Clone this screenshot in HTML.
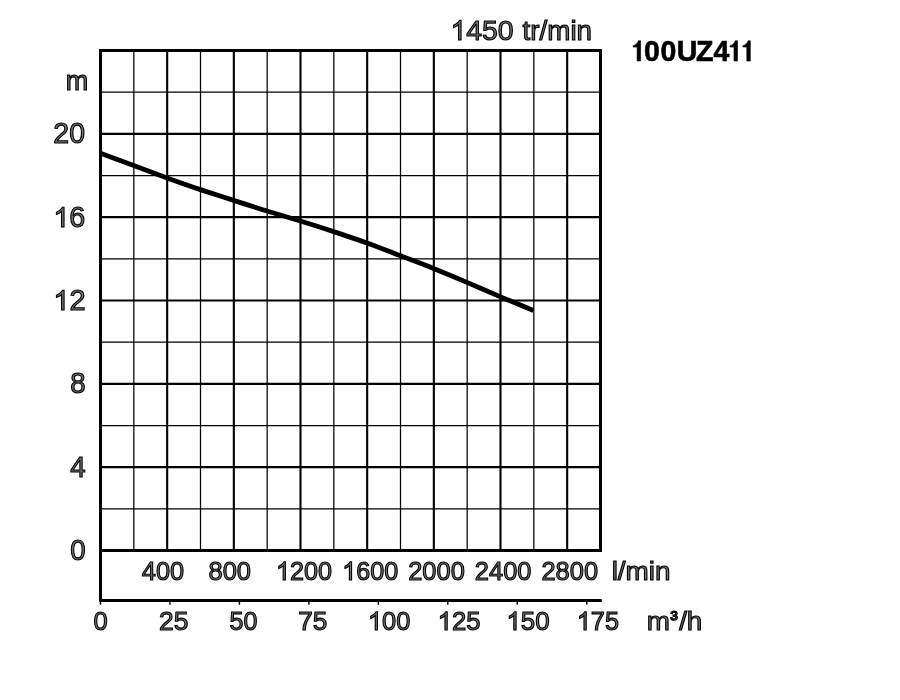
<!DOCTYPE html>
<html><head><meta charset="utf-8"><title>100UZ411</title>
<style>
html,body{margin:0;padding:0;background:#fff;}
body{width:900px;height:700px;overflow:hidden;font-family:"Liberation Sans",sans-serif;}
svg{display:block;will-change:transform;transform:translateZ(0);}
text{font-family:"Liberation Sans",sans-serif;}
.t{fill:#727272;stroke:#000;stroke-width:1.1px;paint-order:fill stroke;vector-effect:non-scaling-stroke;}
.h{fill:none;stroke:none;}
.b{font-weight:bold;fill:#000;stroke:#000;stroke-width:0.6px;vector-effect:non-scaling-stroke;}
</style></head><body>
<svg width="900" height="700" viewBox="0 0 900 700">
<rect width="900" height="700" fill="#fff"/>
<path d="M133.83 50.5V550.5M200.50 50.5V550.5M267.17 50.5V550.5M333.83 50.5V550.5M400.50 50.5V550.5M467.17 50.5V550.5M533.83 50.5V550.5M100.5 92.17H600.5M100.5 175.50H600.5M100.5 258.83H600.5M100.5 342.17H600.5M100.5 425.50H600.5M100.5 508.83H600.5" stroke="#000" stroke-width="1.25" fill="none"/>
<path d="M167.17 50.5V550.5M233.83 50.5V550.5M300.50 50.5V550.5M367.17 50.5V550.5M433.83 50.5V550.5M500.50 50.5V550.5M567.17 50.5V550.5M100.5 133.83H600.5M100.5 217.17H600.5M100.5 300.50H600.5M100.5 383.83H600.5M100.5 467.17H600.5" stroke="#000" stroke-width="2.1" fill="none"/>
<path d="M100.5 600.5V50.5H600.5V552.0" stroke="#000" stroke-width="3" fill="none" stroke-linejoin="miter"/>
<path d="M99.0 550.5H602.0" stroke="#000" stroke-width="3" fill="none"/>
<path d="M99.0 600.5H601.8" stroke="#000" stroke-width="3" fill="none"/>
<path d="M100.50 601V604.7M169.96 601V604.7M239.42 601V604.7M308.88 601V604.7M378.34 601V604.7M447.80 601V604.7M517.26 601V604.7M586.72 601V604.7" stroke="#000" stroke-width="1.4" fill="none"/>
<path d="M100.5 153.3C106.0 155.4 122.6 161.5 133.7 165.6C144.8 169.7 155.9 174.0 167 178C178.1 182.0 189.2 185.9 200.3 189.6C211.4 193.3 222.5 196.8 233.6 200.4C244.7 204.0 255.9 207.6 267 211C278.1 214.4 289.2 217.6 300.3 221C311.4 224.4 322.5 227.9 333.6 231.6C344.7 235.3 355.9 239.0 367 243C378.1 247.0 388.9 251.3 400 255.6C411.1 259.9 422.3 264.0 433.5 268.5C444.7 273.0 455.9 277.7 467 282.4C478.1 287.1 488.9 291.9 500 296.6C511.1 301.3 527.9 308.2 533.5 310.5" stroke="#000" stroke-width="4.8" fill="none" stroke-linejoin="round" stroke-linecap="butt"/>
<g transform="translate(450.46 40) scale(0.9969 1)"><path class="t" transform="translate(0.00 0) scale(0.013916 -0.013320)" d="M763 0H583V1147Q518 1085 412.5 1023T223 930V1104Q374 1175 487 1276T647 1472H763Z"/><text class="t" font-size="28.5" x="0.00 15.85 31.70 47.55" y="0"><tspan class="h">1</tspan>450</text></g>
<g transform="translate(522.53 40) scale(0.9862 1)"><text class="t" font-size="28.2" x="0.00 7.83 17.23 25.06 48.55 54.82" y="0">tr/min</text></g>
<g transform="translate(65.80 90) scale(1.0000 1)"><text class="t" font-size="27.0" x="0.00" y="0">m</text></g>
<g transform="translate(53.32 143) scale(0.9877 1)"><text class="t" font-size="28.8" x="0.00 16.02" y="0">20</text></g>
<g transform="translate(53.32 227) scale(0.9988 1)"><path class="t" transform="translate(0.00 0) scale(0.014063 -0.013461)" d="M763 0H583V1147Q518 1085 412.5 1023T223 930V1104Q374 1175 487 1276T647 1472H763Z"/><text class="t" font-size="28.8" x="0.00 16.02" y="0"><tspan class="h">1</tspan>6</text></g>
<g transform="translate(53.30 310) scale(1.0055 1)"><path class="t" transform="translate(0.00 0) scale(0.014063 -0.013461)" d="M763 0H583V1147Q518 1085 412.5 1023T223 930V1104Q374 1175 487 1276T647 1472H763Z"/><text class="t" font-size="28.8" x="0.00 16.02" y="0"><tspan class="h">1</tspan>2</text></g>
<g transform="translate(70.26 393) scale(0.9600 1)"><text class="t" font-size="28.8" x="0.00" y="0">8</text></g>
<g transform="translate(70.20 477) scale(0.9600 1)"><text class="t" font-size="28.8" x="0.00" y="0">4</text></g>
<g transform="translate(70.31 560) scale(0.9600 1)"><text class="t" font-size="28.8" x="0.00" y="0">0</text></g>
<g transform="translate(141.87 580) scale(0.9584 1)"><text class="t" font-size="26.5" x="0.00 14.74 29.48" y="0">400</text></g>
<g transform="translate(208.54 580) scale(0.9613 1)"><text class="t" font-size="26.5" x="0.00 14.74 29.48" y="0">800</text></g>
<g transform="translate(276.01 580) scale(0.9504 1)"><path class="t" transform="translate(0.00 0) scale(0.012939 -0.012386)" d="M763 0H583V1147Q518 1085 412.5 1023T223 930V1104Q374 1175 487 1276T647 1472H763Z"/><text class="t" font-size="26.5" x="0.00 14.74 29.48 44.21" y="0"><tspan class="h">1</tspan>200</text></g>
<g transform="translate(342.21 580) scale(0.9504 1)"><path class="t" transform="translate(0.00 0) scale(0.012939 -0.012386)" d="M763 0H583V1147Q518 1085 412.5 1023T223 930V1104Q374 1175 487 1276T647 1472H763Z"/><text class="t" font-size="26.5" x="0.00 14.74 29.48 44.21" y="0"><tspan class="h">1</tspan>600</text></g>
<g transform="translate(408.17 580) scale(0.9614 1)"><text class="t" font-size="26.5" x="0.00 14.74 29.48 44.21" y="0">2000</text></g>
<g transform="translate(474.87 580) scale(0.9614 1)"><text class="t" font-size="26.5" x="0.00 14.74 29.48 44.21" y="0">2400</text></g>
<g transform="translate(541.47 580) scale(0.9596 1)"><text class="t" font-size="26.5" x="0.00 14.74 29.48 44.21" y="0">2800</text></g>
<g transform="translate(611.67 580) scale(1.0606 1)"><text class="t" font-size="26.3" x="0.00 5.84 13.15 35.06 40.90" y="0">l/min</text></g>
<g transform="translate(93.45 630) scale(0.9600 1)"><text class="t" font-size="26.6" x="0.00" y="0">0</text></g>
<g transform="translate(159.02 630) scale(0.9951 1)"><text class="t" font-size="26.6" x="0.00 14.79" y="0">25</text></g>
<g transform="translate(229.45 630) scale(0.9424 1)"><text class="t" font-size="26.6" x="0.00 14.79" y="0">50</text></g>
<g transform="translate(298.21 630) scale(0.9850 1)"><text class="t" font-size="26.6" x="0.00 14.79" y="0">75</text></g>
<g transform="translate(367.99 630) scale(0.9544 1)"><path class="t" transform="translate(0.00 0) scale(0.012988 -0.012432)" d="M763 0H583V1147Q518 1085 412.5 1023T223 930V1104Q374 1175 487 1276T647 1472H763Z"/><text class="t" font-size="26.6" x="0.00 14.79 29.59" y="0"><tspan class="h">1</tspan>00</text></g>
<g transform="translate(437.66 630) scale(0.9636 1)"><path class="t" transform="translate(0.00 0) scale(0.012988 -0.012432)" d="M763 0H583V1147Q518 1085 412.5 1023T223 930V1104Q374 1175 487 1276T647 1472H763Z"/><text class="t" font-size="26.6" x="0.00 14.79 29.59" y="0"><tspan class="h">1</tspan>25</text></g>
<g transform="translate(506.43 630) scale(0.9742 1)"><path class="t" transform="translate(0.00 0) scale(0.012988 -0.012432)" d="M763 0H583V1147Q518 1085 412.5 1023T223 930V1104Q374 1175 487 1276T647 1472H763Z"/><text class="t" font-size="26.6" x="0.00 14.79 29.59" y="0"><tspan class="h">1</tspan>50</text></g>
<g transform="translate(576.79 630) scale(0.9513 1)"><path class="t" transform="translate(0.00 0) scale(0.012988 -0.012432)" d="M763 0H583V1147Q518 1085 412.5 1023T223 930V1104Q374 1175 487 1276T647 1472H763Z"/><text class="t" font-size="26.6" x="0.00 14.79 29.59" y="0"><tspan class="h">1</tspan>75</text></g>
<g transform="translate(646.70 630) scale(1.0501 1)"><text class="t" font-size="26.5" x="0.00 22.47 30.90 38.26" y="0">m<tspan font-size="21.73" dy="-4">³</tspan><tspan dy="4">/</tspan>h</text></g>
<g transform="translate(0 61) scale(0.97 1)"><path class="b" transform="translate(648.85 0) scale(0.014355 -0.014355)" d="M806 0H555V970H267V1070Q420 1110 520 1210T651 1409H806Z"/><path class="b" transform="translate(748.74 0) scale(0.014355 -0.014355)" d="M806 0H555V970H267V1070Q420 1110 520 1210T651 1409H806Z"/><path class="b" transform="translate(761.94 0) scale(0.014355 -0.014355)" d="M806 0H555V970H267V1070Q420 1110 520 1210T651 1409H806Z"/><text class="b" font-size="29.4" x="648.85 663.99 681.00 697.72 717.58 735.53 748.74 761.94" y="0"><tspan class="h">1</tspan>00UZ4<tspan class="h">1</tspan><tspan class="h">1</tspan></text></g>
</svg>
</body></html>
